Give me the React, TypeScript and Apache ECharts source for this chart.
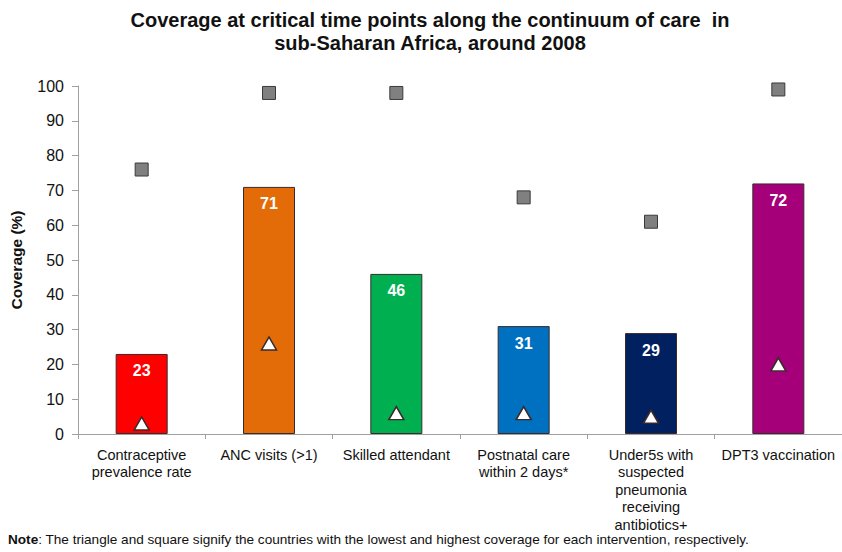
import React, { useEffect, useRef } from "react";
import * as echarts from "echarts";

const categories = [
  "Contraceptive\nprevalence rate",
  "ANC visits (>1)",
  "Skilled attendant",
  "Postnatal care\nwithin 2 days*",
  "Under5s with\nsuspected\npneumonia\nreceiving\nantibiotics+",
  "DPT3 vaccination",
];
const coverage = [23, 71, 46, 31, 29, 72];
const highest = [76, 98, 98, 68, 61, 99];
const lowest = [3, 26, 6, 6, 5, 20];
const barColors = ["#FF0000", "#E36C09", "#00B050", "#0070C0", "#002060", "#A5007A"];
const yTicks = { min: 0, max: 100, interval: 10 };

const titleText =
  "Coverage at critical time points along the continuum of care  in\nsub-Saharan Africa, around 2008";
const noteText =
  "{b|Note}: The triangle and square signify the countries with the lowest and highest coverage for each intervention, respectively.";

const FONT = "'Liberation Sans', Arial, sans-serif";

export default function App() {
  const ref = useRef<HTMLDivElement>(null);
  useEffect(() => {
    if (!ref.current) return;
    const chart = echarts.init(ref.current, null, { renderer: "svg" });
    chart.setOption({
      animation: false,
      backgroundColor: "#ffffff",
      textStyle: { fontFamily: FONT },
      graphic: [
        {
          type: "text",
          x: 430,
          y: 8,
          style: {
            text: titleText,
            textAlign: "center",
            font: `bold 20px ${FONT}`,
            lineHeight: 23,
            fill: "#111",
          },
        },
        {
          type: "text",
          x: 8,
          y: 532,
          style: {
            text: noteText,
            font: `13.6px ${FONT}`,
            fill: "#111",
            rich: { b: { fontWeight: "bold", fontSize: 13.6, fontFamily: FONT, fill: "#111" } },
          },
        },
      ],
      grid: { left: 78, top: 86, width: 771, height: 348, containLabel: false },
      xAxis: {
        type: "category",
        data: categories,
        axisLine: { lineStyle: { color: "#a0a0a0", width: 1 } },
        axisTick: { show: true, length: 5, lineStyle: { color: "#a0a0a0" } },
        axisLabel: {
          interval: 0,
          fontSize: 14.5,
          lineHeight: 17.5,
          color: "#111",
          margin: 12,
          fontFamily: FONT,
        },
      },
      yAxis: {
        type: "value",
        min: yTicks.min,
        max: yTicks.max,
        interval: yTicks.interval,
        name: "Coverage (%)",
        nameLocation: "middle",
        nameGap: 54,
        nameRotate: 90,
        nameTextStyle: { fontSize: 15.5, fontWeight: "bold", color: "#111", fontFamily: FONT },
        axisLine: { show: true, lineStyle: { color: "#a0a0a0", width: 1 } },
        axisTick: { show: true, length: 6, lineStyle: { color: "#a0a0a0" } },
        splitLine: { show: false },
        axisLabel: { fontSize: 16, color: "#111", margin: 14, fontFamily: FONT },
      },
      series: [
        {
          type: "bar",
          barWidth: 52,
          data: coverage.map((v, i) => ({
            value: v,
            itemStyle: { color: barColors[i], borderColor: "#3a2a2a", borderWidth: 1 },
          })),
          label: {
            show: true,
            position: "insideTop",
            distance: 9,
            color: "#ffffff",
            fontWeight: "bold",
            fontSize: 16,
            fontFamily: FONT,
          },
          z: 2,
        },
        {
          type: "scatter",
          data: highest,
          symbol: "rect",
          symbolSize: 13,
          itemStyle: { color: "#808080", borderColor: "#3a3a3a", borderWidth: 1, opacity: 1 },
          z: 3,
        },
        {
          type: "scatter",
          data: lowest,
          symbol: "triangle",
          symbolSize: [15, 13],
          itemStyle: { color: "#ffffff", borderColor: "#3a2a2a", borderWidth: 1.5, opacity: 1 },
          z: 3,
        },
      ],
    });
    return () => chart.dispose();
  }, []);
  return (
    <div
      ref={ref}
      style={{ position: "absolute", left: 0, top: 0, width: 842, height: 552 }}
    />
  );
}
